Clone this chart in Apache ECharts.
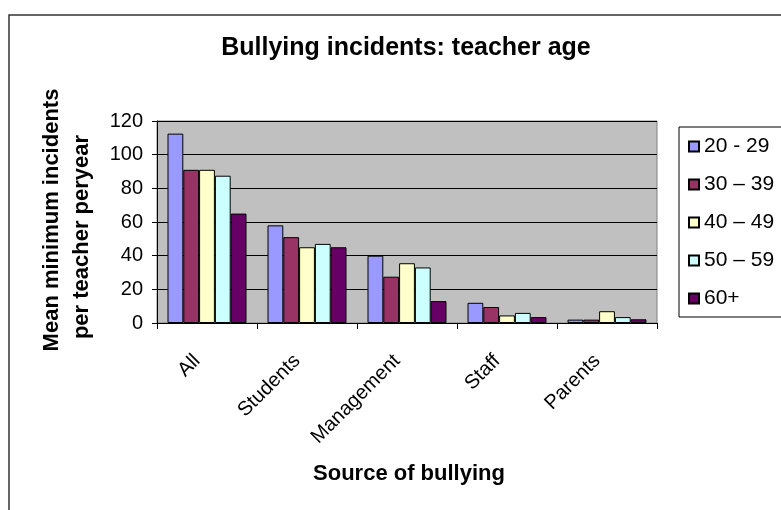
<!DOCTYPE html>
<html>
<head>
<meta charset="utf-8">
<script src="https://cdn.jsdelivr.net/npm/echarts@6/dist/echarts.min.js"></script>
<style>html,body{margin:0;padding:0;background:#fff}#c{width:781px;height:510px}</style>
</head>
<body>
<div id="c"></div>
<script>
const categories = ['All', 'Students', 'Management', 'Staff', 'Parents'];
const seriesNames = ['20 - 29', '30 \u2013 39', '40 \u2013 49', '50 \u2013 59', '60+'];
const age20_29 = [112.5, 58, 40, 12, 2];
const age30_39 = [91, 51, 27.5, 9.5, 2];
const age40_49 = [91, 45, 35.5, 4.5, 7];
const age50_59 = [87.5, 47, 33, 6, 3.5];
const age60plus = [65, 45, 13, 3.5, 2.2];
const yTicks = [0, 20, 40, 60, 80, 100, 120];
const colors = ['#9999FF', '#993366', '#FFFFCC', '#CCFFFF', '#660066'];

const allValues = [age20_29, age30_39, age40_49, age50_59, age60plus];
const FONT = '"Liberation Sans", Arial, sans-serif';

const chart = echarts.init(document.getElementById('c'), null, {renderer: 'canvas'});
chart.setOption({
  animation: false,
  backgroundColor: '#fff',
  title: {
    text: 'Bullying incidents: teacher age',
    left: 401, top: 31, textAlign: 'center',
    textStyle: {fontFamily: FONT, fontWeight: 'bold', fontSize: 25, color: '#000'}
  },
  legend: {
    orient: 'vertical',
    left: 679, top: 127,
    data: seriesNames,
    icon: 'rect',
    itemWidth: 10, itemHeight: 10,
    itemGap: 17,
    padding: [9, 40, 8, 9],
    borderColor: '#000', borderWidth: 1,
    backgroundColor: '#fff',
    textStyle: {fontFamily: FONT, fontSize: 21, color: '#000', lineHeight: 21}
  },
  grid: {left: 157, right: 124, top: 121, bottom: 187, show: true, backgroundColor: '#C0C0C0', borderColor: '#808080', borderWidth: 1},
  xAxis: {
    type: 'category', data: categories,
    axisLine: {lineStyle: {color: '#000', width: 1}},
    axisTick: {show: true, alignWithLabel: false, length: 6, lineStyle: {color: '#000'}},
    axisLabel: {rotate: 45, fontFamily: FONT, fontSize: 20, color: '#000', margin: 25, padding: [0, 14, 0, 0], interval: 0}
  },
  yAxis: {
    type: 'value', min: yTicks[0], max: yTicks[yTicks.length - 1], interval: 20,
    axisLine: {show: true, lineStyle: {color: '#000', width: 1}},
    axisTick: {show: true, length: 5, lineStyle: {color: '#000'}},
    axisLabel: {fontFamily: FONT, fontSize: 20, color: '#000', margin: 14},
    splitLine: {show: true, lineStyle: {color: '#000', width: 1}}
  },
  series: seriesNames.map((n, i) => ({
    name: n, type: 'bar', data: allValues[i],
    barGap: '0%', barCategoryGap: '21%',
    itemStyle: {color: colors[i], borderColor: '#000', borderWidth: 1}
  })),
  graphic: [
    {type: 'rect', shape: {x: 9, y: 15, width: 900, height: 700}, style: {fill: 'none', stroke: '#333', lineWidth: 1.5}, z: 100, silent: true},
    {type: 'text', x: 52, y: 220, rotation: Math.PI / 2, style: {text: 'Mean minimum incidents', x: 0, y: 0, textAlign: 'center', textVerticalAlign: 'middle', font: 'bold 22px ' + FONT, fill: '#000'}},
    {type: 'text', x: 82, y: 237, rotation: Math.PI / 2, style: {text: 'per teacher peryear', x: 0, y: 0, textAlign: 'center', textVerticalAlign: 'middle', font: 'bold 22px ' + FONT, fill: '#000'}},
    {type: 'text', x: 409, y: 474, style: {text: 'Source of bullying', x: 0, y: 0, textAlign: 'center', textVerticalAlign: 'middle', font: 'bold 22px ' + FONT, fill: '#000'}}
  ]
});
</script>
</body>
</html>
